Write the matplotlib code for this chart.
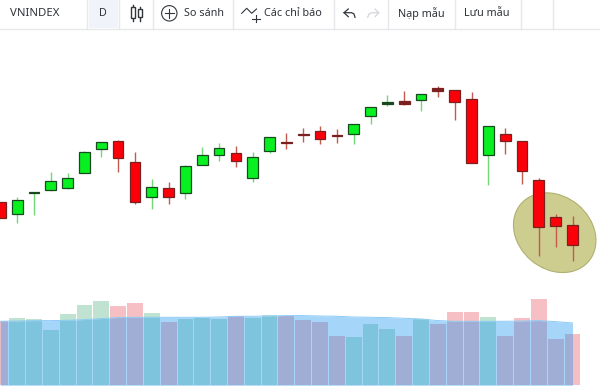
import matplotlib
matplotlib.use("Agg")
import matplotlib.pyplot as plt
from matplotlib.patches import Ellipse, Rectangle, Circle

plt.rcParams['font.family'] = ['Noto Sans', 'DejaVu Sans']

# ---- data (index units)
opens = [184.7,172.7,193.7,196.7,198.7,214.3,237.7,246.3,224.7,189.7,198.7,193.7,221.7,231.7,233.7,208.7,236.3,244.7,253.0,256.0,252.0,253.3,271.0,283.0,285.7,286.7,298.7,297.0,287.7,232.3,253.0,246.0,206.7,170.3,161.7]
closes = [168.7,186.7,195.3,205.7,208.7,234.7,245.3,228.7,185.3,200.3,190.0,221.0,231.7,238.7,226.3,229.7,249.7,243.7,252.0,248.3,251.0,262.7,279.7,284.7,283.0,292.7,296.0,285.3,224.3,260.7,245.7,215.7,160.3,161.3,142.3]
highs = [184.7,189.7,195.3,215.3,213.7,236.3,245.3,247.0,234.7,207.7,205.0,222.0,239.7,243.7,241.0,234.7,249.7,253.7,258.7,261.0,257.7,262.7,279.7,292.0,296.0,292.7,301.0,297.0,294.7,260.7,258.7,246.0,208.7,173.0,170.7]
lows = [168.7,163.7,172.0,196.0,197.7,214.3,230.3,215.3,183.0,177.7,182.7,188.3,221.7,226.0,219.7,205.3,233.7,238.0,245.3,243.0,244.0,243.0,263.0,281.3,282.0,276.3,290.3,267.0,224.3,202.0,233.3,203.3,131.0,140.3,126.0]
volumes = [64,67.7,66,55.7,71,80.7,84.3,79,82.3,72,63.3,66.7,67.3,66.7,69.3,67.3,70,69.3,65.7,63.3,49.7,48,61.7,56.7,49.7,66,61,73.3,73.3,68.3,49,67.3,86,46.3,51.3]
volume_ma = [64,64.3,64.7,64.7,65,65.7,66.7,67.7,68,68,68,68,68,68.3,69,69,69.3,69.7,69.7,69.3,69,68.3,68,67.7,67,66.3,64.7,64,64,64,64,64.3,64.7,63.7,62.3]
title = "VNINDEX"
interval = "D"
toolbar_labels = ["So sánh", "Các chỉ báo", "Nạp mẫu", "Lưu mẫu"]

idx = list(range(len(opens)))
PX = 16.83
xlim = (-0.3 / PX, 599.7 / PX)

fig = plt.figure(figsize=(6, 3.87), dpi=100, facecolor="white")

# volume pane
av = fig.add_axes([0, 0, 1, 1], facecolor="white")
av.set_xlim(*xlim)
av.set_ylim(-1.7, 385.3)
av.axis("off")
vcols = ["#db0010" if c < o else "#009044" for o, c in zip(opens, closes)]
av.bar(idx, volumes, width=0.94, color=vcols, alpha=0.25, linewidth=0, zorder=2)
av.fill_between(idx, 0, volume_ma, color="#2196F3", alpha=0.4, linewidth=0, zorder=3)
av.plot(idx, volume_ma, color="#8ccbf6", lw=0.7, zorder=4)

# price pane
ap = fig.add_axes([0, 0, 1, 1], facecolor="none")
ap.set_xlim(*xlim)
ap.set_ylim(0, 387)
ap.axis("off")

# highlight ellipse, placed in pixel space
over = fig.add_axes([0, 0, 1, 1], facecolor="none")
av.set_zorder(0)
over.set_zorder(1)
ap.set_zorder(2)
over.set_xlim(0, 600)
over.set_ylim(387, 0)
over.axis("off")
over.add_patch(Ellipse((554.7, 232.7), 88.8, 72.6, angle=40, facecolor="#cdcd90", edgecolor="#b0b070", lw=0.8))

GREEN, RED = "#08f020", "#fb0008"
for i, o, c, h, l in zip(idx, opens, closes, highs, lows):
    up = c >= o
    wick = "#74d878" if up else "#c25a50"
    edge = "#184a20" if up else "#7a2020"
    if abs(c - o) < 3:
        face = edge
    else:
        face = GREEN if up else RED
    ap.vlines(i, l, h, color=wick, lw=1.0, zorder=2)
    ap.add_patch(Rectangle((i - 0.32, min(o, c)), 0.64, abs(c - o), facecolor=face,
                           edgecolor=edge, lw=0.9, zorder=3))

# toolbar
ui = fig.add_axes([0, 0, 1, 1], facecolor="none")
ui.set_zorder(5)
ui.set_xlim(0, 600)
ui.set_ylim(387, 0)
ui.axis("off")
ui.add_patch(Rectangle((89, 0), 29, 27.5, facecolor="#f0f3fa", lw=0))
ui.plot([0, 600], [29.3, 29.3], color="#e6e8ec", lw=1)
for sx in [87, 119, 153, 233, 334, 388, 455, 521, 553]:
    ui.plot([sx, sx], [0, 29], color="#e6e8ec", lw=1)

tc = "#2f3338"
ui.text(10, 13.5, title, fontsize=8.2, fontweight="bold", color=tc, va="center", ha="left")
ui.text(103, 13.5, interval, fontsize=7.8, color=tc, va="center", ha="center")
ui.text(184, 13.5, toolbar_labels[0], fontsize=7.8, color=tc, va="center", ha="left")
ui.text(264, 13.5, toolbar_labels[1], fontsize=7.8, color=tc, va="center", ha="left")
ui.text(398, 13.5, toolbar_labels[2], fontsize=7.8, color=tc, va="center", ha="left")
ui.text(464, 13.5, toolbar_labels[3], fontsize=7.8, color=tc, va="center", ha="left")

# candle icon
ic = "#33373c"
ui.plot([133.3, 133.3], [4.7, 21.3], color=ic, lw=1, zorder=1)
ui.add_patch(Rectangle((131.3, 6.7), 4, 11.6, facecolor="white", edgecolor=ic, lw=1, zorder=2))
ui.plot([140.3, 140.3], [6.7, 20.7], color=ic, lw=1, zorder=1)
ui.add_patch(Rectangle((138.3, 9), 4, 8.3, facecolor="white", edgecolor=ic, lw=1, zorder=2))
# plus in a circle
ui.add_patch(Circle((169.3, 13.3), 7.7, facecolor="none", edgecolor=ic, lw=0.8))
ui.plot([165, 174], [13.3, 13.3], color=ic, lw=0.8)
ui.plot([169.3, 169.3], [9, 18], color=ic, lw=0.8)
# indicators
ui.plot([241.7, 246.7, 251.7, 256.5], [13.3, 8.3, 13.3, 9], color=ic, lw=0.8)
ui.plot([252, 259.5], [18.5, 18.5], color=ic, lw=0.8)
ui.plot([255.7, 255.7], [15, 22], color=ic, lw=0.8)
# undo and redo
ui.plot([348.3, 344, 348.3], [9, 12.7, 16.7], color=ic, lw=0.9)
ui.plot([344, 351.7, 354, 355], [12.7, 12.7, 14, 17.3], color=ic, lw=0.9)
ui.plot([375, 378.7, 375], [9, 12.7, 16.7], color="#d4d6da", lw=0.9)
ui.plot([378.7, 371.7, 369, 367.7], [12.7, 12.7, 14, 17.3], color="#d4d6da", lw=0.9)

fig.savefig("out.png", dpi=100)
